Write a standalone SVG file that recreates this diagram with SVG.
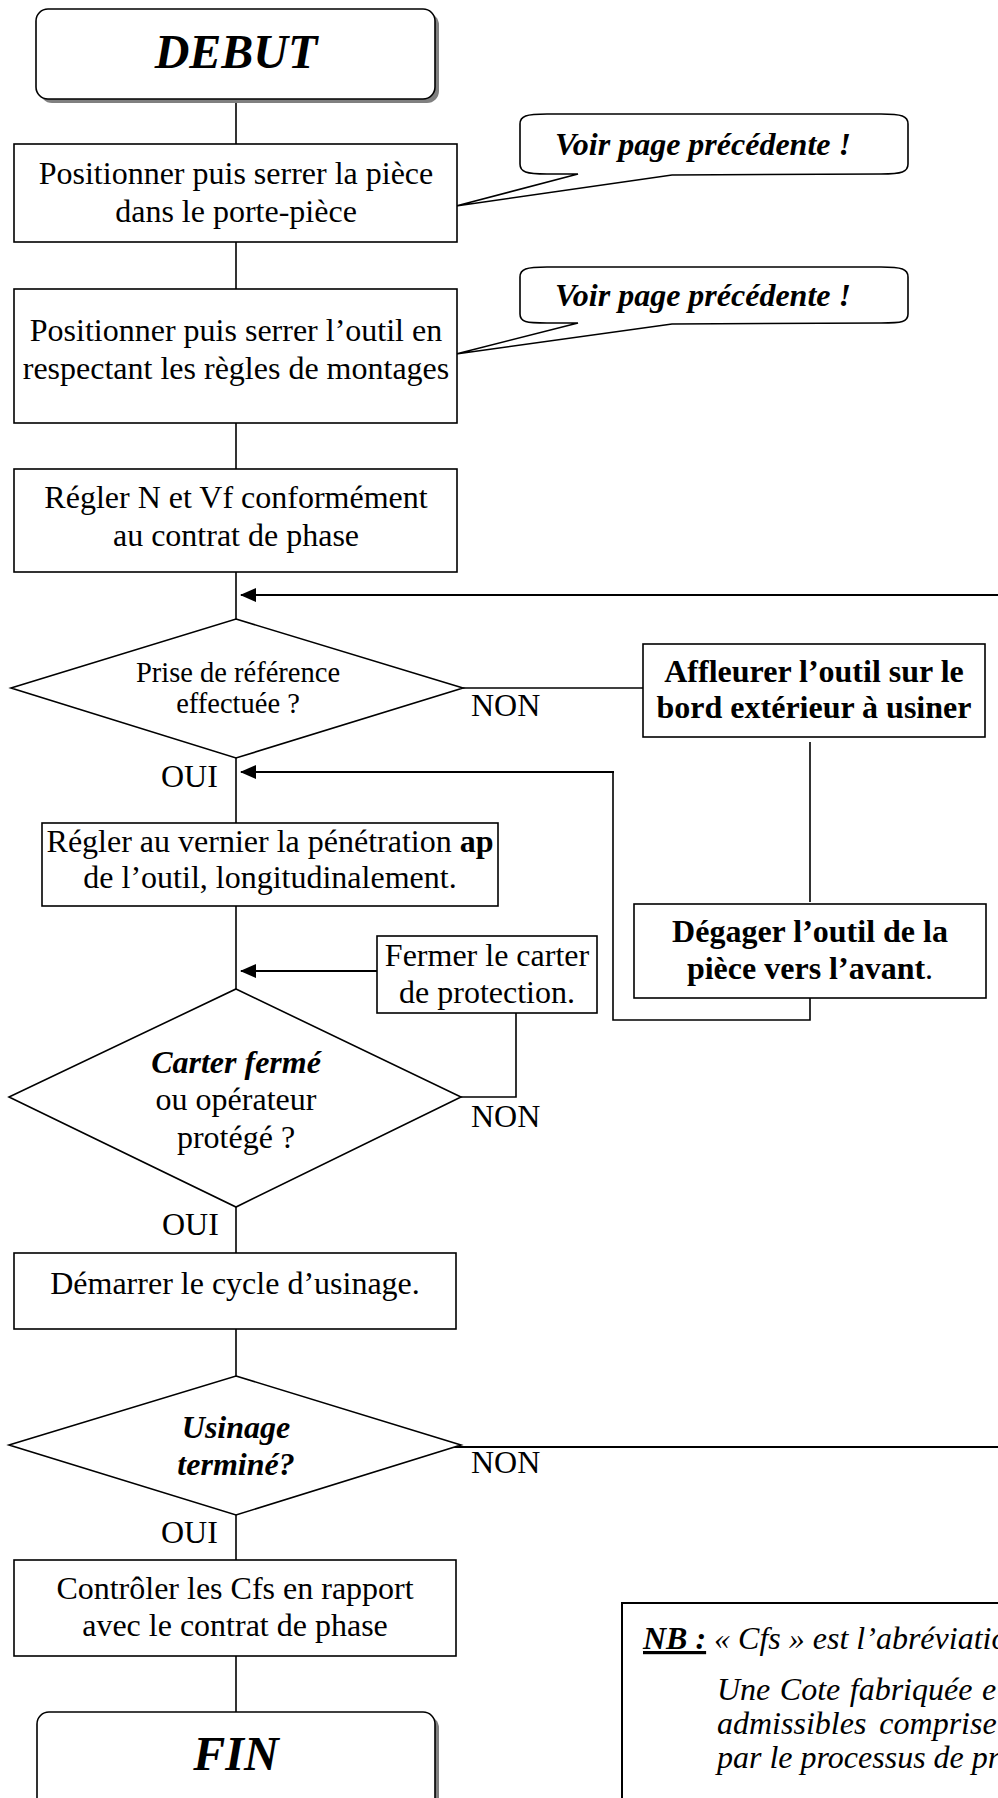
<svg xmlns="http://www.w3.org/2000/svg" width="998" height="1798" viewBox="0 0 998 1798">
<defs>
<marker id="ah" viewBox="0 0 16 14" refX="15" refY="7" markerWidth="16" markerHeight="14" markerUnits="userSpaceOnUse" orient="auto">
<path d="M0 0 L16 7 L0 14 Z" fill="#000"/>
</marker>
</defs>
<style>
.box{fill:#fff;stroke:#000;stroke-width:1.6}
.shadow{fill:#808080}
.ln{fill:none;stroke:#000;stroke-width:1.6}
.arr{fill:none;stroke:#000;stroke-width:2;marker-end:url(#ah)}
text{font-family:"Liberation Serif","Times New Roman",serif;fill:#000}
.t{font-size:32px;text-anchor:middle}
.s{font-size:28.5px;text-anchor:middle}
.lbl{font-size:32px}
.b{font-weight:bold}
.bi{font-weight:bold;font-style:italic}
.big{font-size:48px;font-weight:bold;font-style:italic;text-anchor:middle}
.voir{font-size:32px;font-weight:bold;font-style:italic}
.nb{font-size:32px;font-style:italic}
</style>
<rect width="998" height="1798" fill="#fff"/>

<g id="connectors">
<line class="ln" x1="236" y1="99" x2="236" y2="144"/>
<line class="ln" x1="236" y1="242" x2="236" y2="289"/>
<line class="ln" x1="236" y1="423" x2="236" y2="469"/>
<line class="ln" x1="236" y1="572" x2="236" y2="619"/>
<line class="arr" x1="998" y1="595" x2="241" y2="595"/>
<line class="ln" x1="463" y1="688" x2="643" y2="688"/>
<line class="ln" x1="810" y1="742" x2="810" y2="902"/>
<polyline class="ln" points="810,998 810,1020 613,1020 613,772"/>
<line class="arr" x1="614" y1="772" x2="241" y2="772"/>
<line class="ln" x1="236" y1="758" x2="236" y2="823"/>
<line class="ln" x1="236" y1="906" x2="236" y2="989"/>
<line class="arr" x1="377" y1="971" x2="241" y2="971"/>
<polyline class="ln" points="461,1097 516,1097 516,1013"/>
<line class="ln" x1="236" y1="1207" x2="236" y2="1253"/>
<line class="ln" x1="236" y1="1329" x2="236" y2="1376"/>
<line class="ln" x1="442" y1="1447" x2="998" y2="1447" style="stroke-width:2"/>
<line class="ln" x1="236" y1="1515" x2="236" y2="1560"/>
<line class="ln" x1="236" y1="1656" x2="236" y2="1712"/>
<text class="lbl" x="471" y="716">NON</text>
<text class="lbl" x="161" y="787">OUI</text>
<text class="lbl" x="471" y="1127">NON</text>
<text class="lbl" x="162" y="1235">OUI</text>
<text class="lbl" x="471" y="1473">NON</text>
<text class="lbl" x="161" y="1543">OUI</text>
</g>

<g id="debut">
<rect class="shadow" x="40" y="13" width="399" height="90" rx="12"/>
<rect class="box" x="36" y="9" width="399" height="90" rx="12"/>
<text class="big" x="236" y="68">DEBUT</text>
</g>

<g id="callout1">
<path class="box" d="M547 114 L881 114 C902 114 908 116 908 124 L908 164 C908 172 902 174 881 174 L672 175 L456 206 L578 174 L547 174 C526 174 520 172 520 164 L520 124 C520 116 526 114 547 114 Z"/>
<text class="voir" x="555" y="155">Voir page précédente !</text>
</g>

<g id="callout2">
<path class="box" d="M547 267 L881 267 C902 267 908 269 908 277 L908 314 C908 322 902 323 881 323 L672 324 L456 354 L578 323 L547 323 C526 323 520 322 520 314 L520 277 C520 269 526 267 547 267 Z"/>
<text class="voir" x="555" y="306">Voir page précédente !</text>
</g>

<g id="step1">
<rect class="box" x="14" y="144" width="443" height="98"/>
<text class="t" x="236" y="184">Positionner puis serrer la pièce</text>
<text class="t" x="236" y="222">dans le porte-pièce</text>
</g>

<g id="step2">
<rect class="box" x="14" y="289" width="443" height="134"/>
<text class="t" x="236" y="341">Positionner puis serrer l’outil en</text>
<text class="t" x="236" y="379">respectant les règles de montages</text>
</g>

<g id="step3">
<rect class="box" x="14" y="469" width="443" height="103"/>
<text class="t" x="236" y="508">Régler N et Vf conformément</text>
<text class="t" x="236" y="546">au contrat de phase</text>
</g>

<g id="decision1">
<polygon class="box" points="236,619 463,688 236,758 11,688"/>
<text class="s" x="238" y="682">Prise de référence</text>
<text class="s" x="238" y="713">effectuée ?</text>
</g>

<g id="affleurer">
<rect class="box" x="643" y="644" width="342" height="93"/>
<text class="t b" x="814" y="682">Affleurer l’outil sur le</text>
<text class="t b" x="814" y="718">bord extérieur à usiner</text>
</g>

<g id="degager">
<rect class="box" x="634" y="904" width="352" height="94"/>
<text class="t b" x="810" y="942">Dégager l’outil de la</text>
<text class="t" x="810" y="979"><tspan class="b">pièce vers l’avant</tspan>.</text>
</g>

<g id="regler">
<rect class="box" x="42" y="823" width="456" height="83"/>
<text class="t" x="270" y="852">Régler au vernier la pénétration <tspan class="b">ap</tspan></text>
<text class="t" x="270" y="888">de l’outil, longitudinalement.</text>
</g>

<g id="fermer">
<rect class="box" x="377" y="936" width="220" height="77"/>
<text class="t" x="487" y="966">Fermer le carter</text>
<text class="t" x="487" y="1003">de protection.</text>
</g>

<g id="decision2">
<polygon class="box" points="236,989 461,1097 236,1207 9,1097"/>
<text class="t bi" x="236" y="1073">Carter fermé</text>
<text class="t" x="236" y="1110">ou opérateur</text>
<text class="t" x="236" y="1148">protégé ?</text>
</g>

<g id="demarrer">
<rect class="box" x="14" y="1253" width="442" height="76"/>
<text class="t" x="235" y="1294">Démarrer le cycle d’usinage.</text>
</g>

<g id="decision3">
<polygon class="box" points="236,1376 461,1445 236,1515 9,1445"/>
<text class="t bi" x="236" y="1438">Usinage</text>
<text class="t bi" x="236" y="1475">terminé?</text>
</g>

<g id="controler">
<rect class="box" x="14" y="1560" width="442" height="96"/>
<text class="t" x="235" y="1599">Contrôler les Cfs en rapport</text>
<text class="t" x="235" y="1636">avec le contrat de phase</text>
</g>

<g id="fin">
<rect class="shadow" x="41" y="1716" width="398" height="120" rx="12"/>
<rect class="box" x="37" y="1712" width="398" height="120" rx="12"/>
<text class="big" x="236" y="1770">FIN</text>
</g>

<g id="nb">
<rect class="box" x="622" y="1603" width="420" height="240" style="stroke-width:2"/>
<text class="nb" x="643" y="1649"><tspan class="bi" text-decoration="underline">NB :</tspan> « Cfs » est l’abréviatio</text>
<text class="nb" x="717" y="1700" word-spacing="1.5">Une Cote fabriquée e</text>
<text class="nb" x="717" y="1734" word-spacing="5">admissibles comprise</text>
<text class="nb" x="717" y="1768">par le processus de pr</text>
</g>
</svg>
